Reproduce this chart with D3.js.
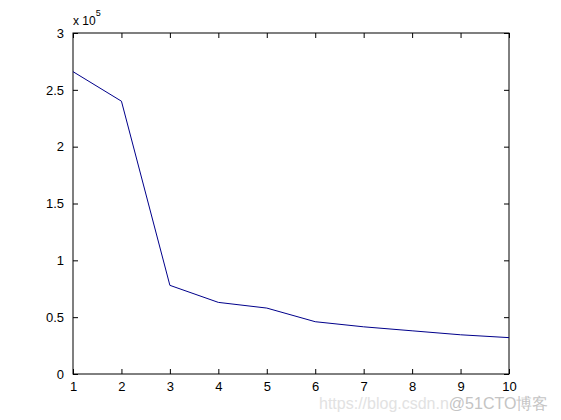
<!DOCTYPE html>
<html lang="en">
<head>
    <meta charset="UTF-8">
    <title>Line plot</title>
    <style>
        body { margin: 0; background: #fff; }
        svg { display: block; font-family: Arial, "Liberation Sans", sans-serif; }
    </style>
</head>
<body>
    <div id="chart"></div>
    <script src="https://d3js.org/d3.v7.min.js"></script>
    <script>
        // values (y in units of 10^5)
        const xValues = [1, 2, 3, 4, 5, 6, 7, 8, 9, 10];
        const yValues = [2.66, 2.40, 0.78, 0.63, 0.58, 0.46, 0.415, 0.38, 0.345, 0.32];
        const xTicks = [1, 2, 3, 4, 5, 6, 7, 8, 9, 10];
        const yTicks = [0, 0.5, 1, 1.5, 2, 2.5, 3];
        const yTickLabels = ["0", "0.5", "1", "1.5", "2", "2.5", "3"];

        const margin = { top: 33, right: 52, bottom: 46, left: 73 },
              width = 561 - margin.left - margin.right,
              height = 420 - margin.top - margin.bottom;

        const svg = d3.select("#chart")
            .append("svg")
            .attr("width", 561)
            .attr("height", 420);

        const g = svg.append("g")
            .attr("transform", `translate(${margin.left},${margin.top})`);

        const x = d3.scaleLinear().domain([1, 10]).range([0, width]);
        const y = d3.scaleLinear().domain([0, 3]).range([height, 0]);

        // ticks point inward, on all four sides like matlab
        const tickLen = 5;
        const styleAxis = sel => {
            sel.select(".domain").remove();
            sel.selectAll("line").attr("stroke", "#000");
            sel.selectAll("text").attr("fill", "#000").style("font-size", "13px");
        };

        g.append("g")
            .attr("transform", `translate(0,${height})`)
            .call(d3.axisBottom(x).tickValues(xTicks).tickSize(-tickLen).tickPadding(8).tickFormat(d3.format("d")))
            .call(styleAxis);

        g.append("g")
            .call(d3.axisTop(x).tickValues(xTicks).tickSize(-tickLen).tickFormat(""))
            .call(styleAxis);

        g.append("g")
            .call(d3.axisLeft(y).tickValues(yTicks).tickSize(-tickLen).tickPadding(9)
                .tickFormat((d, i) => yTickLabels[i]))
            .call(styleAxis);

        g.append("g")
            .attr("transform", `translate(${width},0)`)
            .call(d3.axisRight(y).tickValues(yTicks).tickSize(-tickLen).tickFormat(""))
            .call(styleAxis);

        // box
        g.append("rect")
            .attr("width", width)
            .attr("height", height)
            .attr("fill", "none")
            .attr("stroke", "#000")
            .attr("stroke-width", 1);

        // exponent label
        const expo = svg.append("text")
            .attr("x", margin.left)
            .attr("y", 25)
            .style("font-size", "12px")
            .attr("fill", "#000");
        expo.append("tspan").text("x 10");
        expo.append("tspan").attr("dy", -9).style("font-size", "9px").text("5");

        // the line
        const line = d3.line()
            .x((d, i) => x(xValues[i]))
            .y(d => y(d));

        g.append("path")
            .datum(yValues)
            .attr("fill", "none")
            .attr("stroke", "#00008b")
            .attr("stroke-width", 1)
            .attr("d", line);

        // watermark
        const wm = svg.append("text")
            .attr("x", 319)
            .attr("y", 409)
            .style("font-size", "16px");
        wm.append("tspan").attr("fill", "#e2e2e2").text("https://blog.csdn.n");
        wm.append("tspan").attr("fill", "#c4c4c4").text("@51CTO博客");
    </script>
</body>
</html>
